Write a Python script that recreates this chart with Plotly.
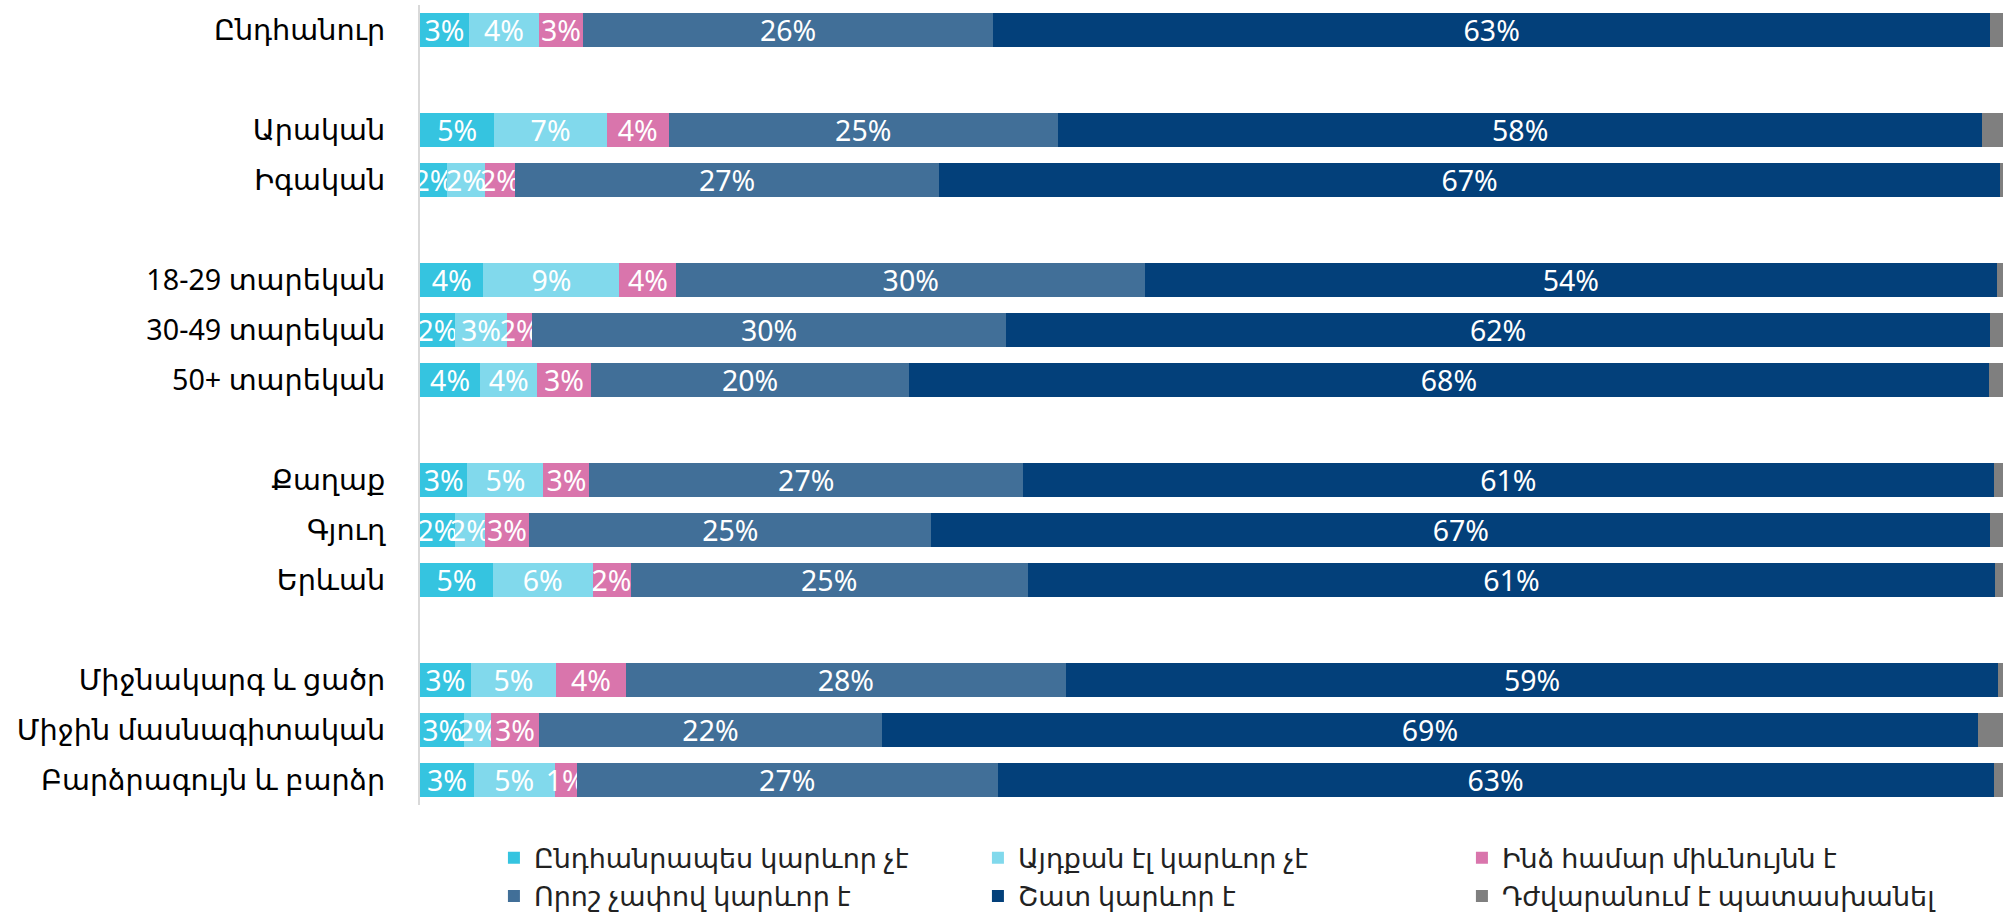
import plotly.graph_objects as go

# ---- data ----
categories = [
    "Ընդհանուր",
    "Արական", "Իգական",
    "18-29 տարեկան", "30-49 տարեկան", "50+ տարեկան",
    "Քաղաք", "Գյուղ", "Երևան",
    "Միջնակարգ և ցածր", "Միջին մասնագիտական", "Բարձրագույն և բարձր",
]
groups = [1, 2, 3, 3, 3]  # number of categories in each group (blank row between groups)

series_names = [
    "Ընդհանրապես կարևոր չէ",
    "Այդքան էլ կարևոր չէ",
    "Ինձ համար միևնույնն է",
    "Որոշ չափով կարևոր է",
    "Շատ կարևոր է",
    "Դժվարանում է պատասխանել",
]
not_important_at_all = [3.1, 4.7, 1.7, 4.0, 2.2, 3.8, 3.0, 2.2, 4.6, 3.2, 2.8, 3.4]
not_so_important     = [4.4, 7.1, 2.4, 8.6, 3.3, 3.6, 4.8, 1.9, 6.3, 5.4, 1.7, 5.1]
indifferent          = [2.8, 3.9, 1.9, 3.6, 1.6, 3.4, 2.9, 2.8, 2.4, 4.4, 3.0, 1.4]
somewhat_important   = [25.9, 24.6, 26.8, 29.6, 29.9, 20.1, 27.4, 25.4, 25.1, 27.8, 21.7, 26.6]
very_important       = [63.0, 58.4, 67.0, 53.8, 62.2, 68.2, 61.3, 66.9, 61.1, 58.9, 69.2, 62.9]
hard_to_answer       = [0.8, 1.3, 0.2, 0.4, 0.8, 0.9, 0.6, 0.8, 0.5, 0.3, 1.6, 0.6]

series_values = [not_important_at_all, not_so_important, indifferent,
                 somewhat_important, very_important, hard_to_answer]
colors = ["#35C4E0", "#81D9EC", "#D975AC", "#416F98", "#03407A", "#7F7F7F"]
show_labels = [True, True, True, True, True, False]

# ---- positions (rows with a blank row between groups) ----
ypos = []
row = 0
for gi, n in enumerate(groups):
    if gi > 0:
        row += 1
    for _ in range(n):
        ypos.append(row)
        row += 1
n_rows = row

font_family = "Segoe UI, Noto Sans, DejaVu Sans, sans-serif"

fig = go.Figure()
for name, vals, col, lab in zip(series_names, series_values, colors, show_labels):
    fig.add_trace(go.Bar(
        y=ypos, x=vals, name=name, orientation="h",
        marker=dict(color=col, line=dict(width=0)),
        text=[f"{v:.0f}%" for v in vals] if lab else None,
        textposition="inside" if lab else "none",
        insidetextanchor="middle",
        constraintext="none",
        textangle=0,
        textfont=dict(color="white", size=28.5, family=font_family),
        hoverinfo="x+name",
    ))

fig.update_layout(
    barmode="stack",
    bargap=0.32,
    width=2016, height=917,
    margin=dict(l=420, r=13, t=5, b=112, autoexpand=False),
    plot_bgcolor="white", paper_bgcolor="white",
    font=dict(family=font_family, size=28, color="#000000"),
    xaxis=dict(range=[0, 100], visible=False, fixedrange=True),
    yaxis=dict(
        tickmode="array", tickvals=ypos, ticktext=categories,
        range=[n_rows - 0.5, -0.5],
        showgrid=False, zeroline=False,
        showline=True, linecolor="#D9D9D9", linewidth=2,
        ticks="", ticklabelstandoff=27,
        tickfont=dict(size=28.7, color="#000000"),
    ),
    legend=dict(
        orientation="h",
        x=0.0467, xanchor="left", y=-0.036, yanchor="top",
        entrywidth=439, entrywidthmode="pixels",
        font=dict(size=27, color="#222222"),
        traceorder="normal",
        itemsizing="constant",
        tracegroupgap=0,
    ),
    showlegend=True,
)

fig.write_html("out.html", config={"displayModeBar": False},
               post_script="document.body.style.margin='0';")
